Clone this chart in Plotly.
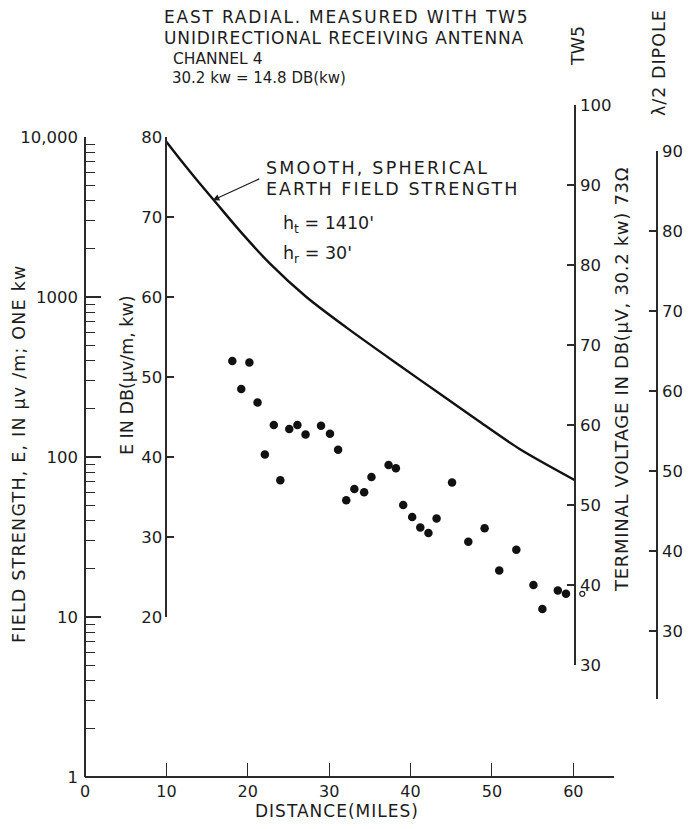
import plotly.graph_objects as go

# ---------------- data ----------------
dist_meas = [18.1, 19.2, 20.2, 21.2, 22.1, 23.2, 24.0, 25.1, 26.1, 27.1, 29.0, 30.1, 31.1,
             32.1, 33.1, 34.3, 35.2, 37.3, 38.2, 39.1, 40.2, 41.2, 42.2, 43.2, 45.1, 47.1,
             49.1, 50.9, 53.0, 55.1, 56.2, 58.1, 59.1]
e_meas_db = [52.0, 48.5, 51.8, 46.8, 40.3, 44.0, 37.1, 43.5, 44.0, 42.8, 43.9, 42.9, 40.9,
             34.6, 36.0, 35.6, 37.5, 39.0, 38.6, 34.0, 32.5, 31.2, 30.5, 32.3, 36.8, 29.4,
             31.1, 25.8, 28.4, 24.0, 21.0, 23.3, 22.9]
dist_open = [61.1]
e_open_db = [22.9]

dist_curve = [10.0, 12.0, 14.0, 16.0, 19.0, 22.7, 27.2, 32.1, 38.7, 43.6, 48.5, 53.4, 60.2]
e_curve_db = [79.4, 76.8, 74.3, 71.9, 68.3, 64.2, 60.0, 56.2, 51.4, 47.9, 44.4, 41.0, 37.1]

x_ticks = [0, 10, 20, 30, 40, 50, 60]
db_ticks = [20, 30, 40, 50, 60, 70, 80]
log_ticks = [1, 10, 100, 1000, 10000]
log_labels = ["1", "10", "100", "1000", "10,000"]
tw5_ticks = [30, 40, 50, 60, 70, 80, 90, 100]
dip_ticks = [30, 40, 50, 60, 70, 80, 90]

# ---------------- geometry ----------------
# the page adds an 8 px body margin, so the figure is drawn 8 px smaller and all
# positions below are given in page pixels.
PAGE_OFF = 8
W, H = 690 - PAGE_OFF, 829 - PAGE_OFF
PLOT_LEFT, PLOT_RIGHT, PLOT_TOP, PLOT_BOTTOM = 85, 670, 100, 777   # page px
L = PLOT_LEFT - PAGE_OFF
T = PLOT_TOP - PAGE_OFF
R = W - (PLOT_RIGHT - PAGE_OFF)
B = H - (PLOT_BOTTOM - PAGE_OFF)
PW, PH = PLOT_RIGHT - PLOT_LEFT, PLOT_BOTTOM - PLOT_TOP
PX_PER_DB = 8.0
TW5_OFFSET = 16.0     # TW5 reading = E(dB) + offset
DIP_OFFSET = 11.8     # dipole reading = E(dB) + offset
X_MAX = 65.0
X_DOM = 529.0 / PW


def fy(db):
    return db * PX_PER_DB / PH


def px(xpix):
    return (xpix - PLOT_LEFT) / PW


def py(ypix):
    return (PLOT_BOTTOM - ypix) / PH


def xpos(miles):
    return X_DOM * miles / X_MAX


FONT = "'DejaVu Sans', 'Open Sans', sans-serif"
INK = "#1c1c1c"
AX = "#2a2a2a"
tickfont = dict(family=FONT, size=16.5, color=INK)

fig = go.Figure()

fig.add_trace(go.Scatter(x=dist_curve, y=e_curve_db, mode="lines",
                         line=dict(color="#111111", width=2.4, shape="spline", smoothing=0.8),
                         xaxis="x", yaxis="y", cliponaxis=False, showlegend=False,
                         hoverinfo="skip"))
fig.add_trace(go.Scatter(x=dist_meas, y=e_meas_db, mode="markers",
                         marker=dict(color="#111111", size=8.5), cliponaxis=False,
                         xaxis="x", yaxis="y", showlegend=False))
fig.add_trace(go.Scatter(x=dist_open, y=e_open_db, mode="markers",
                         marker=dict(color="white", size=5, line=dict(color=INK, width=1.2)),
                         cliponaxis=False, xaxis="x", yaxis="y", showlegend=False))
# invisible anchors so the extra scales are drawn
for ax_id, yv in (("y2", 10), ("y3", 50), ("y4", 50)):
    fig.add_trace(go.Scatter(x=[30], y=[yv], mode="markers", marker=dict(opacity=0),
                             xaxis="x", yaxis=ax_id, showlegend=False, hoverinfo="skip"))

common = dict(showgrid=False, zeroline=False, showline=True, linecolor=AX, linewidth=1.5,
              tickcolor=AX, tickwidth=1.5, tickfont=tickfont, anchor="free")

fig.update_layout(
    width=W, height=H,
    margin=dict(l=L, r=R, t=T, b=B, autoexpand=False),
    paper_bgcolor="white", plot_bgcolor="rgba(0,0,0,0)",
    showlegend=False,
    xaxis=dict(domain=[0, X_DOM], range=[0, X_MAX], showgrid=False, zeroline=False,
               showline=True, linecolor=AX, linewidth=1.5, anchor="free", position=0,
               tickmode="array", tickvals=x_ticks, ticktext=[str(v) for v in x_ticks],
               ticks="inside", ticklen=13, tickcolor=AX, tickwidth=1.2,
               tickfont=dict(tickfont, size=16), ticklabelstandoff=0),
    yaxis=dict(common, domain=[fy(20), fy(80)], range=[20, 80], position=xpos(10),
               side="left", tickmode="array", tickvals=db_ticks, ticks="inside", ticklen=7,
               ticklabelstandoff=0),
    yaxis2=dict(common, domain=[0, fy(80)], range=[0, 4], type="log", position=0,
                side="left", tickmode="array", tickvals=log_ticks, ticktext=log_labels,
                ticks="inside", ticklen=15, ticklabelstandoff=3,
                minor=dict(ticks="inside", ticklen=9, tickcolor=AX, tickwidth=1.2,
                           tickvals=[m * 10 ** d for d in range(4) for m in range(2, 10)])),
    yaxis3=dict(common, domain=[fy(30 - TW5_OFFSET), fy(100 - TW5_OFFSET)], range=[30, 100],
                position=px(575), side="right", tickmode="array", tickvals=tw5_ticks,
                ticks="inside", ticklen=7, ticklabelstandoff=1),
    yaxis4=dict(common, domain=[fy(21.5 - DIP_OFFSET), fy(90 - DIP_OFFSET)], range=[21.5, 90],
                position=px(657), side="right", tickmode="array", tickvals=dip_ticks,
                ticks="inside", ticklen=7, ticklabelstandoff=1),
)


def note(text, xp, yp, size=17.5, angle=0, xanchor="left", yanchor="middle", spacing=0):
    if spacing:
        text = f'<span style="letter-spacing:{spacing}px">{text}</span>'
    fig.add_annotation(text=text, x=xp, y=yp, xref="paper", yref="paper", showarrow=False,
                       textangle=angle, xanchor=xanchor, yanchor=yanchor, borderpad=0,
                       font=dict(family=FONT, size=size, color=INK))


# title block
note("EAST RADIAL. MEASURED WITH TW5", px(163), py(17), size=17, spacing=1.8)
note("UNIDIRECTIONAL RECEIVING ANTENNA", px(163), py(38), size=17, spacing=0.9)
note("CHANNEL 4", px(172), py(59), size=15.5)
note("30.2 kw = 14.8 DB(kw)", px(171), py(78), size=15)

# axis labels
note("FIELD STRENGTH, E, IN μv /m; ONE kw", px(19), py(454), size=17.5, angle=-90,
     xanchor="center", spacing=1.2)
note("E IN DB(μv/m, kw)", px(127), py(375), angle=-90, xanchor="center")
note("TERMINAL VOLTAGE IN DB(μV, 30.2 kw) 73Ω", px(622), py(380), size=18, angle=-90,
     xanchor="center", spacing=0.7)
note("TW5", px(578), py(46), angle=-90, xanchor="center")
note("λ/2 DIPOLE", px(659), py(63), angle=-90, xanchor="center", spacing=1)
note("DISTANCE(MILES)", px(337), py(811), size=17, xanchor="center", spacing=1)

# curve annotation
note("SMOOTH, SPHERICAL", px(265), py(168), size=17.5, spacing=2.2)
note("EARTH FIELD STRENGTH", px(265), py(189), size=17.5, spacing=2)
note("h<sub>t</sub> = 1410'", px(282), py(224))
note("h<sub>r</sub> = 30'", px(282), py(254))
fig.add_annotation(x=15.7, y=72.1, xref="x", yref="y", text="", showarrow=True,
                   arrowhead=2, arrowsize=1.1, arrowwidth=1.2, arrowcolor=INK,
                   ax=48, ay=-22, standoff=0)

fig.write_html("out.html")
